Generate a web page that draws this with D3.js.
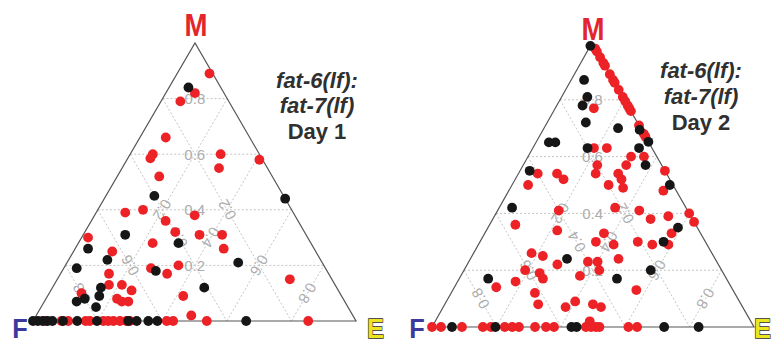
<!DOCTYPE html>
<html>
<head>
<meta charset="utf-8">
<script src="https://cdnjs.cloudflare.com/ajax/libs/d3/7.8.5/d3.min.js"></script>
<style>
  html, body { margin: 0; padding: 0; background: #fff; }
  svg { display: block; }
</style>
</head>
<body>
<svg id="chart" width="772" height="344"></svg>
<script>
// Ternary compositions, each point stored as [M, E]; F is the remainder 1 - M - E.
const gridTicks = [0.2, 0.4, 0.6, 0.8];
const cornerNames = ["M", "F", "E"];

const day1Red = [
  [0.89, 0.10], [0.82, 0.09], [0.79, 0.06], [0.66, 0.08], [0.60, 0.07], [0.585, 0.07],
  [0.52, 0.13], [0.60, 0.28], [0.55, 0.30], [0.58, 0.41], [0.39, 0.09], [0.40, 0.14],
  [0.38, 0.31], [0.36, 0.23], [0.32, 0.28], [0.31, 0.36], [0.31, 0.43], [0.26, 0.46],
  [0.30, 0.02], [0.25, 0.12], [0.28, 0.23], [0.19, 0.27], [0.17, 0.33], [0.20, 0.35],
  [0.17, 0.15], [0.13, 0.17], [0.13, 0.21], [0.11, 0.25], [0.10, 0.10], [0.08, 0.22],
  [0.07, 0.24], [0.07, 0.26], [0.09, 0.42], [0.15, 0.72], [0.02, 0.48],
  [0, 0.039], [0, 0.088], [0, 0.109], [0, 0.163], [0, 0.176], [0, 0.218], [0, 0.233],
  [0, 0.249], [0, 0.269], [0, 0.289], [0, 0.30], [0, 0.414], [0, 0.434], [0, 0.538], [0, 0.852]
];
const day1Black = [
  [0.84, 0.06], [0.45, 0.15], [0.44, 0.56], [0.31, 0.13], [0.26, 0.04], [0.28, 0.31],
  [0.22, 0.12], [0.19, 0.04], [0.18, 0.29], [0.21, 0.53], [0.12, 0.15], [0.09, 0.16],
  [0.08, 0.12], [0.07, 0.10], [0.05, 0.17], [0.12, 0.47],
  [0, 0], [0, 0.015], [0, 0.03], [0, 0.045], [0, 0.06], [0, 0.093], [0, 0.137],
  [0, 0.198], [0, 0.295], [0, 0.321], [0, 0.357], [0, 0.385], [0, 0.66]
];

const day2Red = [
  [0.98, 0.02], [0.97, 0.03], [0.95, 0.05], [0.93, 0.07], [0.92, 0.08], [0.89, 0.11],
  [0.87, 0.13], [0.86, 0.14], [0.835, 0.165], [0.81, 0.19], [0.795, 0.205], [0.78, 0.22],
  [0.77, 0.23], [0.76, 0.24], [0.71, 0.29], [0.68, 0.32], [0.67, 0.33], [0.55, 0.45],
  [0.40, 0.60], [0.37, 0.63],
  [0.77, 0.12], [0.63, 0.19], [0.63, 0.23], [0.60, 0.32], [0.57, 0.32], [0.60, 0.36],
  [0.57, 0.23], [0.54, 0.24], [0.54, 0.31], [0.52, 0.33], [0.50, 0.30], [0.49, 0.35],
  [0.54, 0.12], [0.52, 0.15], [0.54, 0.06], [0.50, 0.05], [0.48, 0.48], [0.36, 0.08],
  [0.41, 0.19], [0.34, 0.22], [0.42, 0.36], [0.41, 0.44], [0.38, 0.49], [0.39, 0.54],
  [0.33, 0.58], [0.33, 0.37], [0.30, 0.36], [0.29, 0.42], [0.30, 0.49], [0.29, 0.54],
  [0.29, 0.59], [0.26, 0.18], [0.25, 0.22], [0.22, 0.28], [0.23, 0.37], [0.23, 0.40],
  [0.20, 0.42], [0.24, 0.46], [0.20, 0.19], [0.19, 0.24], [0.17, 0.26], [0.18, 0.37],
  [0.14, 0.13], [0.16, 0.18], [0.13, 0.57], [0.12, 0.26], [0.08, 0.29], [0.09, 0.40],
  [0.07, 0.38], [0.08, 0.46], [0.07, 0.49], [0.02, 0.48],
  [0, 0], [0, 0.028], [0, 0.093], [0, 0.158], [0, 0.183], [0, 0.226], [0, 0.249],
  [0, 0.270], [0, 0.320], [0, 0.354], [0, 0.379], [0, 0.478], [0, 0.494], [0, 0.509],
  [0, 0.520], [0, 0.610], [0, 0.637]
];
const day2Black = [
  [0.99, 0.0], [0.87, 0.04], [0.81, 0.08], [0.78, 0.08], [0.72, 0.12], [0.65, 0.04],
  [0.65, 0.06], [0.70, 0.23], [0.63, 0.33], [0.63, 0.17], [0.57, 0.38], [0.694, 0.30],
  [0.652, 0.348], [0.55, 0.03], [0.50, 0.49], [0.42, 0.04], [0.35, 0.59], [0.30, 0.57],
  [0.24, 0.30], [0.20, 0.58], [0.17, 0.09], [0.17, 0.49],
  [0, 0.062], [0, 0.197], [0, 0.433], [0, 0.449], [0, 0.721], [0, 0.828]
];

const titles1 = ["fat-6(lf):", "fat-7(lf)", "Day 1"];
const titles2 = ["fat-6(lf):", "fat-7(lf)", "Day 2"];

const svg = d3.select("#chart");
const FONT = "'Liberation Sans', Arial, Helvetica, sans-serif";

const panels = [
  { F: [33, 321], E: [356, 321], M: [195, 43], red: day1Red, black: day1Black, titles: titles1,
    titleX: 317, titleY: [88, 113, 139], mPos: [196, 36], fPos: [20, 338], ePos: [375.5, 338] },
  { F: [432, 327], E: [754, 327], M: [592, 43], red: day2Red, black: day2Black, titles: titles2,
    titleX: 701, titleY: [78, 104, 130], mPos: [593, 40], fPos: [417, 338], ePos: [762.5, 338] }
];

panels.forEach(p => {
  const g = svg.append("g");
  // m maps to height, e maps along the base; the apex offset shears by m
  const yScale = d3.scaleLinear().domain([0, 1]).range([p.F[1], p.M[1]]);
  const xScale = d3.scaleLinear().domain([0, 1]).range([p.F[0], p.E[0]]);
  const shear = (p.M[0] - p.F[0]) / (p.E[0] - p.F[0]);
  const proj = (m, e) => [xScale(e + m * shear), yScale(m)];

  // grid lines
  const gridG = g.append("g");
  const seg = (a, b) => gridG.append("line")
    .attr("x1", a[0]).attr("y1", a[1]).attr("x2", b[0]).attr("y2", b[1])
    .attr("stroke", "#bdbdbd").attr("stroke-width", 0.9).attr("stroke-dasharray", "2,2");
  gridTicks.forEach(k => {
    seg(proj(k, 0), proj(k, 1 - k));          // constant M
    seg(proj(1 - k, 0), proj(0, 1 - k));      // constant F
    seg(proj(0, k), proj(1 - k, k));          // constant E
  });

  // triangle outline
  g.append("path")
    .attr("d", d3.line()([proj(0, 0), proj(1, 0), proj(0, 1)]) + "Z")
    .attr("fill", "none").attr("stroke", "#555").attr("stroke-width", 1.2);

  // grid labels at midpoints of each grid line
  const rad = 180 / Math.PI;
  const aRight = Math.atan2(p.E[1] - p.M[1], p.E[0] - p.M[0]) * rad;   // direction M -> E
  const aLeft = Math.atan2(p.M[1] - p.F[1], p.M[0] - p.F[0]) * rad;    // direction F -> M
  const fmt = d3.format(".1f");
  const lab = (pt, rot, txt) => g.append("text")
    .attr("x", pt[0]).attr("y", pt[1])
    .attr("transform", `rotate(${rot},${pt[0]},${pt[1]})`)
    .attr("text-anchor", "middle").attr("dominant-baseline", "central")
    .attr("font-family", FONT).attr("font-size", 15).attr("fill", "#adadad")
    .text(txt);
  gridTicks.forEach(k => {
    lab(proj(k, (1 - k) / 2), 0, fmt(k));
    lab(proj((1 - k) / 2, (1 - k) / 2), aRight - 180, fmt(k));
    lab(proj((1 - k) / 2, k), aLeft + 180, fmt(k));
  });

  // points
  const dot = (data, color) => g.append("g").selectAll("circle").data(data).join("circle")
    .attr("cx", d => proj(d[0], d[1])[0])
    .attr("cy", d => proj(d[0], d[1])[1])
    .attr("r", 4.9).attr("fill", color);
  dot(p.red, "#ec2227");
  dot(p.black, "#161616");

  // corner names
  g.append("text").attr("x", p.mPos[0]).attr("y", p.mPos[1])
    .attr("text-anchor", "middle").attr("font-family", FONT).attr("font-weight", "bold")
    .attr("font-size", 31).attr("fill", "#e3262d")
    .attr("textLength", 23).attr("lengthAdjust", "spacingAndGlyphs").text(cornerNames[0]);
  g.append("text").attr("x", p.fPos[0]).attr("y", p.fPos[1])
    .attr("text-anchor", "middle").attr("font-family", FONT).attr("font-weight", "bold")
    .attr("font-size", 27).attr("fill", "#3b3a9c")
    .attr("textLength", 15.5).attr("lengthAdjust", "spacingAndGlyphs").text(cornerNames[1]);
  g.append("text").attr("x", p.ePos[0]).attr("y", p.ePos[1])
    .attr("text-anchor", "middle").attr("font-family", FONT).attr("font-weight", "bold")
    .attr("font-size", 27).attr("fill", "#ece41e").attr("stroke", "#2b2b2b").attr("stroke-width", 1.3)
    .attr("paint-order", "stroke")
    .attr("textLength", 17).attr("lengthAdjust", "spacingAndGlyphs").text(cornerNames[2]);

  // strain / day caption
  p.titles.forEach((t, i) => {
    g.append("text").attr("x", p.titleX).attr("y", p.titleY[i])
      .attr("text-anchor", "middle").attr("font-family", FONT).attr("font-weight", "bold")
      .attr("font-style", i < 2 ? "italic" : "normal")
      .attr("font-size", 22).attr("fill", "#303030").text(t);
  });
});
</script>
</body>
</html>
